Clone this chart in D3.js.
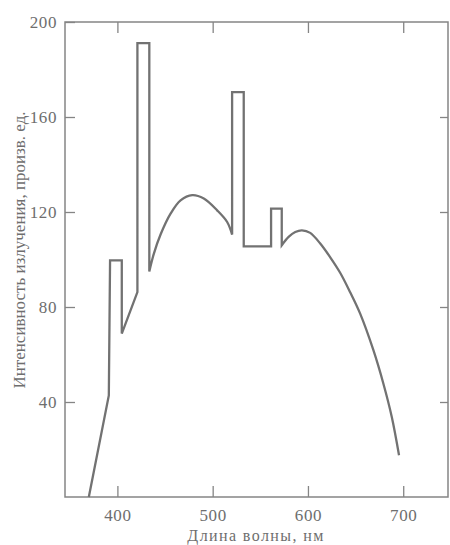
<!DOCTYPE html>
<html>
<head>
<meta charset="utf-8">
<script src="https://cdn.jsdelivr.net/npm/d3@7/dist/d3.min.js"></script>
<style>
  html, body { margin: 0; padding: 0; background: #fff; }
  svg { display: block; }
  text { font-family: "Liberation Serif", "DejaVu Serif", serif; fill: #6e6e6e; }
</style>
</head>
<body>
<svg id="chart" width="450" height="545"></svg>
<script>
// Wavelength (nm) and emission intensity (arb. units)
const wavelength = [370, 391, 392.3, 404.6, 404.6, 421, 421, 433.5, 433.5, 438.3, 445.3, 455.8, 466.3, 478.5, 490.7, 504.7, 515.2, 520.4, 520.4, 532.6, 532.6, 561.3, 561.3, 572.5, 572.5, 579.7, 586.7, 593.7, 602.4, 612.9, 623.4, 633.8, 644.3, 654.8, 668.7, 679.2, 688, 695.6];
const intensity  = [0, 42.8, 99.6, 99.6, 68.8, 86.3, 191.1, 191.1, 95, 102.5, 110.5, 119.3, 124.9, 127.1, 125.7, 120.7, 115.8, 110.5, 170.5, 170.5, 105.5, 105.5, 121.4, 121.4, 106, 109.5, 111.6, 112.3, 111.2, 106.7, 100.9, 94.4, 86.2, 77.2, 61.8, 47.7, 33.7, 17.6];
const xTicks = [400, 500, 600, 700];
const yTicks = [40, 80, 120, 160, 200];
const xTitle = "Длина волны, нм";
const yTitle = "Интенсивность излучения, произв. ед.";

const svg = d3.select("#chart");
const x = d3.scaleLinear().domain([345, 747]).range([65, 448]);
const y = d3.scaleLinear().domain([0, 200]).range([497, 22]);

const axisColor = "#858585";
const lineColor = "#727272";

// frame
svg.append("rect")
  .attr("x", x.range()[0]).attr("y", y.range()[1])
  .attr("width", x.range()[1] - x.range()[0])
  .attr("height", y.range()[0] - y.range()[1])
  .attr("fill", "none").attr("stroke", axisColor).attr("stroke-width", 1.5);

function styleAxis(g) {
  g.select(".domain").remove();
  g.selectAll(".tick line").attr("stroke", axisColor).attr("stroke-width", 1.3);
  g.selectAll(".tick text").attr("fill", "#6e6e6e").style("font-size", "17px")
    .style("letter-spacing", "0.6px")
    .style("font-family", '"Liberation Serif", serif');
}

svg.append("g").attr("transform", `translate(0,${y(0)})`)
  .call(d3.axisBottom(x).tickValues(xTicks).tickSizeInner(-11).tickSizeOuter(0).tickPadding(12))
  .call(styleAxis);
svg.append("g").attr("transform", `translate(0,${y(200)})`)
  .call(d3.axisTop(x).tickValues(xTicks).tickSizeInner(-11).tickSizeOuter(0).tickFormat(""))
  .call(styleAxis);
svg.append("g").attr("transform", `translate(${x.range()[0]},0)`)
  .call(d3.axisLeft(y).tickValues(yTicks).tickSizeInner(-10).tickSizeOuter(0).tickPadding(8))
  .call(styleAxis);
svg.append("g").attr("transform", `translate(${x.range()[1]},0)`)
  .call(d3.axisRight(y).tickValues(yTicks.filter(v => v < 200)).tickSizeInner(-8).tickSizeOuter(0).tickFormat(""))
  .call(styleAxis);

// curve: split into runs at vertical jumps; smooth the long (hump) runs, straight elsewhere
const pts = wavelength.map((w, i) => [w, intensity[i]]);
const runs = [];
let cur = [pts[0]];
for (let i = 1; i < pts.length; i++) {
  if (pts[i][0] === pts[i - 1][0]) { runs.push(cur); cur = [pts[i]]; }
  else cur.push(pts[i]);
}
runs.push(cur);
const lineLin = d3.line().x(d => x(d[0])).y(d => y(d[1])).curve(d3.curveLinear);
const lineSm = d3.line().x(d => x(d[0])).y(d => y(d[1])).curve(d3.curveCatmullRom.alpha(0.5));
let dStr = "";
runs.forEach((r, i) => {
  let s = (r.length >= 6 ? lineSm : lineLin)(r);
  if (i > 0) s = "L" + s.slice(1);
  dStr += s;
});
svg.append("path").attr("d", dStr)
  .attr("fill", "none").attr("stroke", lineColor).attr("stroke-width", 2.3)
  .attr("stroke-linejoin", "miter");

// titles
svg.append("text").attr("x", 256).attr("y", 541).attr("text-anchor", "middle")
  .style("font-size", "16px").style("letter-spacing", "1.4px").text(xTitle);
svg.append("text").attr("transform", "translate(25,250) rotate(-90)")
  .attr("text-anchor", "middle").style("font-size", "17px").text(yTitle);
</script>
</body>
</html>
